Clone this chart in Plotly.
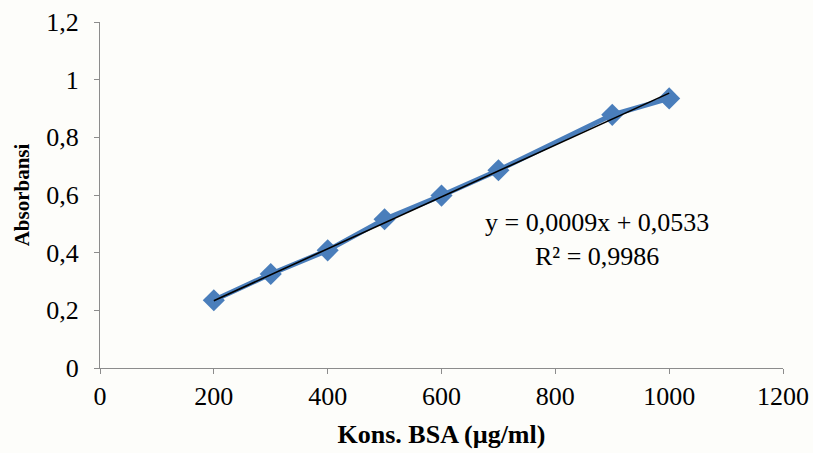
import plotly.graph_objects as go

konsentrasi = [200, 300, 400, 500, 600, 700, 900, 1000]
absorbansi = [0.235, 0.326, 0.408, 0.516, 0.598, 0.686, 0.878, 0.935]
slope = 0.0009
intercept = 0.0533
r2_text = "0,9986"
x_ticks = [0, 200, 400, 600, 800, 1000, 1200]
y_ticks = [0, 0.2, 0.4, 0.6, 0.8, 1.0, 1.2]

trend_x = [konsentrasi[0], konsentrasi[-1]]
trend_y = [slope * v + intercept for v in trend_x]

font_fam = "Liberation Serif, Times New Roman, serif"
axis_col = "#8c8c8c"

fig = go.Figure()
fig.add_trace(go.Scatter(
    x=konsentrasi, y=absorbansi, mode="lines+markers",
    line=dict(color="#4a7ebb", width=5),
    marker=dict(symbol="diamond", size=17, color="#4a7ebb"),
    showlegend=False, hoverinfo="skip"))
fig.add_trace(go.Scatter(
    x=trend_x, y=trend_y, mode="lines",
    line=dict(color="black", width=1.6),
    showlegend=False, hoverinfo="skip"))

fig.add_annotation(
    x=873, y=0.445, xref="x", yref="y", showarrow=False,
    text="y = 0,0009x + 0,0533<br>R² = " + r2_text,
    font=dict(family=font_fam, size=26, color="black"), align="center")

fig.update_layout(
    width=813, height=453,
    margin=dict(l=100, r=30, t=22, b=85),
    paper_bgcolor="#fdfdfa", plot_bgcolor="#fdfdfa",
    separators=",.",
    font=dict(family=font_fam, size=26, color="black"),
    xaxis=dict(range=[0, 1200], tickvals=x_ticks, showgrid=False, zeroline=False,
               showline=True, linecolor=axis_col, linewidth=1.2, automargin=False,
               ticks="outside", ticklen=5, tickcolor=axis_col,
               tickfont=dict(size=26), title=dict(text="<b>Kons. BSA (µg/ml)</b>",
               font=dict(size=26), standoff=14)),
    yaxis=dict(range=[0, 1.2], tickvals=y_ticks, showgrid=False, zeroline=False,
               showline=True, linecolor=axis_col, linewidth=1.2, automargin=False,
               ticks="outside", ticklen=5, tickcolor=axis_col, ticklabelstandoff=10,
               tickfont=dict(size=26), title=dict(text="<b>Absorbansi</b>",
               font=dict(size=21), standoff=10)),
)

fig.write_html("out.html", config={"displayModeBar": False},
               post_script="document.body.style.margin='0';")
